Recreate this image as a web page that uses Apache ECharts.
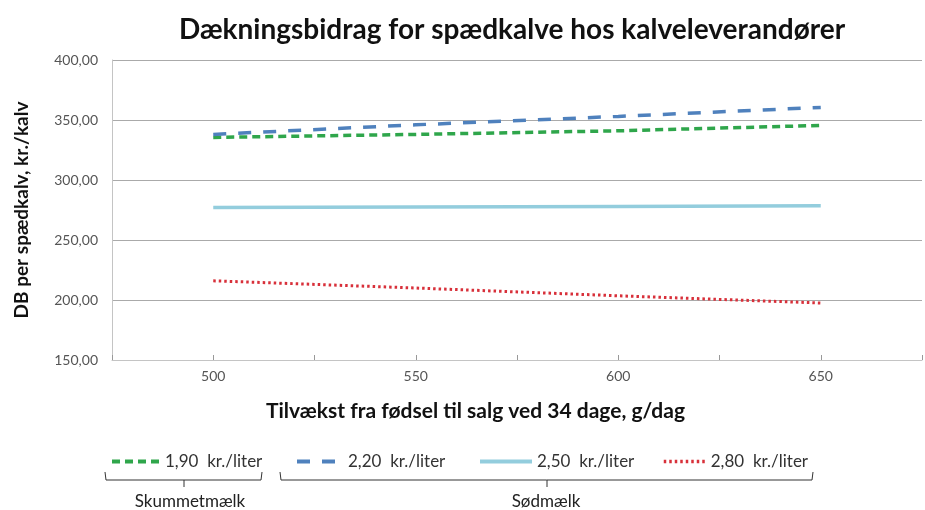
<!DOCTYPE html>
<html>
<head>
<meta charset="utf-8">
<script src="https://cdn.jsdelivr.net/npm/echarts@6/dist/echarts.min.js"></script>
<style>
  html,body{margin:0;padding:0;background:#fff;}
  #chart{width:925px;height:510px;}
</style>
</head>
<body>
<div id="chart"></div>
<script>
// data
const tilvaekst = [500, 550, 600, 650];
const skummet190 = [335.5, 338, 341, 345.5];
const soed220 = [338, 346, 353, 360.5];
const soed250 = [277, 277.5, 278, 278.5];
const soed280 = [216, 210, 203.5, 197.5];
const seriesNames = ['1,90  kr./liter', '2,20  kr./liter', '2,50  kr./liter', '2,80  kr./liter'];

const pair = (ys) => tilvaekst.map((x, i) => [x, ys[i]]);
const font = 'Lato, "Open Sans", sans-serif';

let myChart = echarts.init(document.getElementById('chart'));

// en legend pr. serie, så de ligger som i billedet
let legendAt = [105, 290, 473, 657];
let legendW = [48, 46, 52, 42];
let legendLine = [4, 4, 4, 3.5];
let legends = seriesNames.map((n, i) => ({
  data: [n],
  left: legendAt[i],
  top: 448,
  itemWidth: legendW[i],
  itemHeight: 12,
  itemGap: 0,
  itemStyle: {opacity: 0, borderWidth: 0},
  lineStyle: {width: legendLine[i]},
  textStyle: {color: '#333', fontSize: 17, fontFamily: font}
}));

let option = {
  animation: false,
  title: {
    text: 'Dækningsbidrag for spædkalve hos kalveleverandører',
    left: 174,
    top: 11,
    textStyle: {fontSize: 28, fontWeight: 'bold', color: '#111', fontFamily: font}
  },
  legend: legends,
  grid: {left: 112, right: 0, top: 60, bottom: 150},
  xAxis: {
    type: 'value',
    min: 475,
    max: 675,
    interval: 25,
    name: 'Tilvækst fra fødsel til salg ved 34 dage, g/dag',
    nameLocation: 'middle',
    nameGap: 41,
    nameTextStyle: {fontSize: 21, fontWeight: 'bold', color: '#111', fontFamily: font, padding: [0, 83, 0, 0]},
    axisLine: {lineStyle: {color: '#c4c4c4'}},
    axisTick: {inside: true, length: 5, lineStyle: {color: '#999'}},
    axisLabel: {
      fontSize: 14, color: '#555', margin: 9, fontFamily: font,
      formatter: (v) => (v % 50 === 0 ? String(v) : '')
    },
    splitLine: {show: false}
  },
  yAxis: {
    type: 'value',
    min: 150,
    max: 400,
    interval: 50,
    name: 'DB per spædkalv, kr./kalv',
    nameLocation: 'middle',
    nameGap: 81,
    nameTextStyle: {fontSize: 19, fontWeight: 'bold', color: '#111', fontFamily: font},
    axisLine: {show: true, lineStyle: {color: '#c4c4c4'}},
    axisTick: {show: false},
    axisLabel: {
      fontSize: 14, color: '#555', margin: 14, fontFamily: font,
      formatter: (v) => v.toFixed(2).replace('.', ',')
    },
    splitLine: {lineStyle: {color: '#aaaaaa', width: 1}}
  },
  series: [
    {
      name: seriesNames[0], type: 'line', symbol: 'none', data: pair(skummet190),
      lineStyle: {color: '#2fa64b', width: 3.5, type: [8, 5]}, itemStyle: {color: '#2fa64b'}
    },
    {
      name: seriesNames[1], type: 'line', symbol: 'none', data: pair(soed220),
      lineStyle: {color: '#4f81bd', width: 3.5, type: [13, 12]}, itemStyle: {color: '#4f81bd'}
    },
    {
      name: seriesNames[2], type: 'line', symbol: 'none', data: pair(soed250),
      lineStyle: {color: '#93cddd', width: 3.5}, itemStyle: {color: '#93cddd'}
    },
    {
      name: seriesNames[3], type: 'line', symbol: 'none', data: pair(soed280),
      lineStyle: {color: '#d8303a', width: 3, type: [2.5, 3]}, itemStyle: {color: '#d8303a'}
    }
  ],
  // klammer under legenden
  graphic: [
    {type: 'polyline', shape: {points: [[105, 472], [106, 480], [261, 480], [262, 472]]}, style: {stroke: '#333', lineWidth: 1, fill: null}},
    {type: 'line', shape: {x1: 184, y1: 480, x2: 184, y2: 487}, style: {stroke: '#333', lineWidth: 1}},
    {type: 'text', x: 190, y: 502, style: {text: 'Skummetmælk', align: 'center', verticalAlign: 'middle', fontSize: 17, fill: '#222', fontFamily: font}},
    {type: 'polyline', shape: {points: [[280, 472], [281, 480], [812, 480], [813, 472]]}, style: {stroke: '#333', lineWidth: 1, fill: null}},
    {type: 'line', shape: {x1: 547, y1: 480, x2: 547, y2: 487}, style: {stroke: '#333', lineWidth: 1}},
    {type: 'text', x: 546, y: 502, style: {text: 'Sødmælk', align: 'center', verticalAlign: 'middle', fontSize: 17, fill: '#222', fontFamily: font}}
  ]
};
myChart.setOption(option);
window.addEventListener('resize', function () { myChart.resize(); });
</script>
</body>
</html>
